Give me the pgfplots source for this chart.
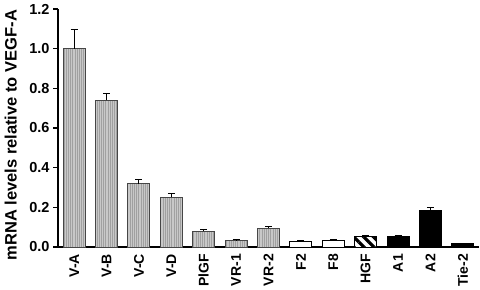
\documentclass[border=0pt]{standalone}
\usepackage{fontspec}
\setmainfont{Liberation Sans}
\usepackage{pgfplots}
\pgfplotsset{compat=1.18}
\usetikzlibrary{patterns,patterns.meta}
\definecolor{barg}{RGB}{200,200,200}
\definecolor{stripeg}{RGB}{160,160,160}
\begin{document}
\begin{tikzpicture}[x=1bp,y=1bp]
\useasboundingbox (0,0) rectangle (480,289);
\begin{axis}[
  at={(58bp,42bp)}, anchor=south west,
  scale only axis, width=421bp, height=238bp,
  xmin=-0.5, xmax=12.5, ymin=0, ymax=1.2,
  axis x line*=bottom, axis y line*=left,
  axis line style={line width=1.4bp, -},
  every tick/.style={black, line width=1.4bp},
  tick align=outside,
  major tick length=5bp,
  xtick={0,...,12},
  xticklabels={V-A,V-B,V-C,V-D,PlGF,VR-1,VR-2,F2,F8,HGF,A1,A2,Tie-2},
  x tick style={draw=none},
  extra x ticks={-0.5,0.5,1.5,2.5,3.5,4.5,5.5,6.5,7.5,8.5,9.5,10.5,11.5,12.5},
  extra x tick labels={},
  extra x tick style={tick style={draw=black, line width=1.4bp}},
  xticklabel style={rotate=90, anchor=east, font=\fontsize{14bp}{16bp}\selectfont\bfseries, inner sep=2bp},
  ytick={0,0.2,0.4,0.6,0.8,1.0,1.2},
  yticklabel style={font=\fontsize{14.5bp}{16bp}\selectfont\bfseries, /pgf/number format/.cd, fixed, fixed zerofill, precision=1, assume math mode=true},
  ylabel={mRNA levels relative to VEGF-A},
  ylabel style={font=\fontsize{16.5bp}{18bp}\selectfont\bfseries, at={(axis description cs:-0.112,0.47)}, anchor=center},
  ybar, bar width=22bp,
  error bars/y dir=plus, error bars/y explicit,
  error bars/error bar style={line width=1bp, black},
  error bars/error mark options={rotate=90, mark size=3.5bp, line width=1bp, black},
  clip=false,
]
\addplot[bar shift=0pt, draw={rgb,255:red,70;green,70;blue,70}, line width=1bp, fill=barg,
  postaction={pattern={Lines[angle=90, distance=2.2bp, line width=0.6bp]}, pattern color=stripeg}]
  coordinates {(0,1.0) +- (0,0.095) (1,0.74) +- (0,0.035) (2,0.32) +- (0,0.02) (3,0.25) +- (0,0.02) (4,0.08) +- (0,0.01) (5,0.032) +- (0,0.004) (6,0.095) +- (0,0.01)};
\addplot[bar shift=0pt, draw=black, line width=1bp, fill=white]
  coordinates {(7,0.029) +- (0,0.003) (8,0.035) +- (0,0.005)};
\addplot[bar shift=0pt, draw=black, line width=1bp, fill=white,
  postaction={pattern={Lines[angle=-45, distance=7bp, line width=3.2bp]}, pattern color=black}]
  coordinates {(9,0.051) +- (0,0.007)};
\addplot[bar shift=0pt, draw=black, line width=1bp, fill=black]
  coordinates {(10,0.054) +- (0,0.006) (11,0.186) +- (0,0.014) (12,0.019) +- (0,0.001)};
\end{axis}
\end{tikzpicture}
\end{document}
